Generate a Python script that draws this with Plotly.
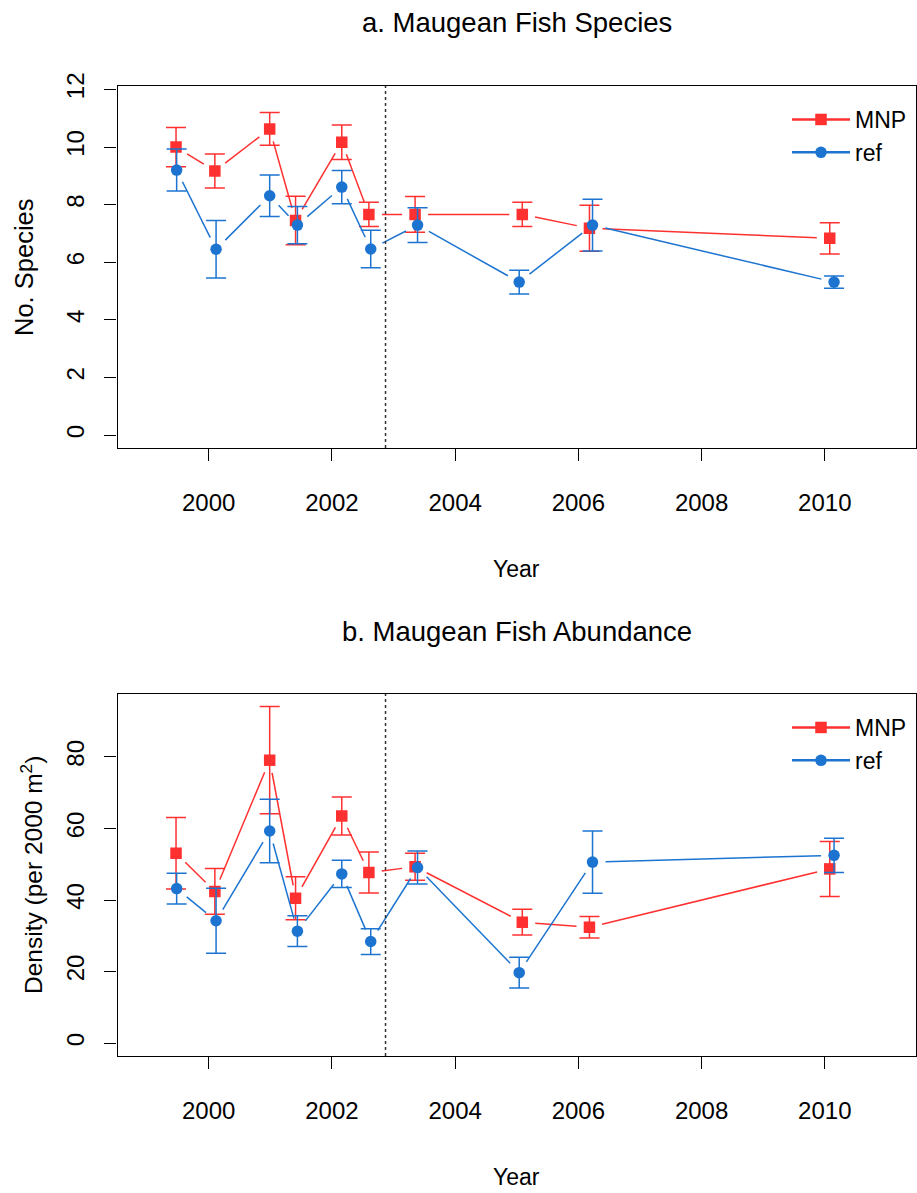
import math
import plotly.graph_objects as go

# ---------------- data ----------------
years_mnp = [1999.47, 2000.10, 2000.99, 2001.41, 2002.16, 2002.60, 2003.35, 2005.09, 2006.18, 2010.08]
years_ref = [1999.48, 2000.12, 2000.99, 2001.44, 2002.16, 2002.63, 2003.39, 2005.04, 2006.23, 2010.15]

species_mnp = [10.00, 9.17, 10.63, 7.45, 10.17, 7.66, 7.66, 7.66, 7.18, 6.83]
species_mnp_se = [0.68, 0.59, 0.57, 0.84, 0.60, 0.42, 0.62, 0.42, 0.80, 0.54]
species_ref = [9.20, 6.45, 8.31, 7.29, 8.61, 6.46, 7.29, 5.31, 7.29, 5.31]
species_ref_se = [0.73, 1.00, 0.72, 0.65, 0.58, 0.65, 0.60, 0.41, 0.90, 0.21]

density_mnp = [53.1, 42.4, 79.1, 40.5, 63.5, 47.7, 49.3, 33.8, 32.4, 48.7]
density_mnp_se = [10.0, 6.4, 15.0, 6.0, 5.3, 5.7, 3.8, 3.6, 3.0, 7.7]
density_ref = [43.2, 34.2, 59.3, 31.3, 47.3, 28.4, 49.1, 19.7, 50.6, 52.5]
density_ref_se = [4.3, 9.1, 8.9, 4.3, 3.8, 3.6, 4.6, 4.3, 8.7, 4.8]

x_ticks = [2000, 2002, 2004, 2006, 2008, 2010]
species_ticks = [0, 2, 4, 6, 8, 10, 12]
density_ticks = [0, 20, 40, 60, 80]
park_declared = 2002.87

series_names = ["MNP", "ref"]
titles = ["a. Maugean Fish Species", "b. Maugean Fish Abundance"]

# ---------------- layout geometry ----------------
W, H = 917, 1193
PX_L, PX_R = 117.5, 916.0
PANELS = [(86.0, 448.0), (694.0, 1056.0)]
X_RANGE = [1998.52, 2011.48]
Y_RANGES = [[-0.45, 12.12], [-3.6, 97.6]]

RED = "#FF3030"
BLUE = "#1C74D0"
FONT = "Liberation Sans, Arial, Helvetica, sans-serif"
FS = 23
FS_TICK = 24


def gapped(xs, ys, xr, yr, wpx, hpx, gap=13.0):
    """R type='b' style segments: lines that stop short of each point."""
    sx = wpx / (xr[1] - xr[0])
    sy = hpx / (yr[1] - yr[0])
    X, Y = [], []
    for i in range(len(xs) - 1):
        ddx, ddy = xs[i + 1] - xs[i], ys[i + 1] - ys[i]
        L = math.hypot(ddx * sx, ddy * sy)
        if L <= 2 * gap:
            continue
        t = gap / L
        X += [xs[i] + t * ddx, xs[i + 1] - t * ddx, None]
        Y += [ys[i] + t * ddy, ys[i + 1] - t * ddy, None]
    return X, Y


fig = go.Figure()

panel_data = [
    (species_mnp, species_mnp_se, species_ref, species_ref_se),
    (density_mnp, density_mnp_se, density_ref, density_ref_se),
]

for p, (m, mse, r, rse) in enumerate(panel_data):
    xa = "x" if p == 0 else "x2"
    ya = "y" if p == 0 else "y2"
    lg = "legend" if p == 0 else "legend2"
    top, bot = PANELS[p]
    wpx, hpx = PX_R - PX_L, bot - top
    for xs, ys, se, col, sym, name in [
        (years_mnp, m, mse, RED, "square", series_names[0]),
        (years_ref, r, rse, BLUE, "circle", series_names[1]),
    ]:
        gx, gy = gapped(xs, ys, X_RANGE, Y_RANGES[p], wpx, hpx)
        fig.add_trace(go.Scatter(x=gx, y=gy, mode="lines", xaxis=xa, yaxis=ya,
                                 line=dict(color=col, width=1.5), showlegend=False,
                                 hoverinfo="skip"))
        fig.add_trace(go.Scatter(x=xs, y=ys, mode="markers", xaxis=xa, yaxis=ya,
                                 marker=dict(symbol=sym, size=11.5, color=col),
                                 error_y=dict(type="data", array=se, visible=True,
                                              color=col, thickness=1.5, width=10),
                                 showlegend=False, name=name))
        # legend entry
        fig.add_trace(go.Scatter(x=[None], y=[None], mode="lines+markers", xaxis=xa, yaxis=ya,
                                 line=dict(color=col, width=2.5),
                                 marker=dict(symbol=sym, size=11.5, color=col),
                                 name=name, legend=lg, showlegend=True))

axis_common = dict(showline=True, mirror=True, linecolor="black", linewidth=1.2,
                   ticks="outside", ticklen=12, tickwidth=1.2, tickcolor="black",
                   showgrid=False, zeroline=False, automargin=False,
                   tickfont=dict(family=FONT, size=FS_TICK, color="black"))

layout = dict(
    width=W, height=H, template="none",
    margin=dict(l=0, r=0, t=0, b=0),
    paper_bgcolor="white", plot_bgcolor="white",
    font=dict(family=FONT, size=FS, color="black"),
    shapes=[], annotations=[],
)

for p in range(2):
    top, bot = PANELS[p]
    sfx = "" if p == 0 else "2"
    layout["xaxis" + sfx] = dict(axis_common, domain=[PX_L / W, PX_R / W], range=X_RANGE,
                                 tickvals=x_ticks, anchor="y" + sfx,
                                 ticklabelstandoff=21)
    layout["yaxis" + sfx] = dict(axis_common, domain=[1 - bot / H, 1 - top / H],
                                 range=Y_RANGES[p], anchor="x" + sfx,
                                 tickvals=species_ticks if p == 0 else density_ticks,
                                 tickangle=-90, ticklabelstandoff=11)
    layout["shapes"].append(dict(type="line", xref="x" + sfx, yref="y" + sfx + " domain",
                                 x0=park_declared, x1=park_declared, y0=0, y1=1,
                                 line=dict(color="#333333", width=1.5, dash="dot")))
    # main title
    layout["annotations"].append(dict(text=titles[p], xref="paper", yref="paper",
                                      x=(PX_L + PX_R) / 2 / W,
                                      y=1 - (top - 63) / H, showarrow=False,
                                      xanchor="center", yanchor="middle",
                                      font=dict(size=27.5)))
    # x axis title
    layout["annotations"].append(dict(text="Year", xref="paper", yref="paper",
                                      x=(PX_L + PX_R) / 2 / W,
                                      y=1 - (bot + 121) / H, showarrow=False,
                                      xanchor="center", yanchor="middle",
                                      font=dict(size=FS)))

layout["annotations"].append(dict(text="No. Species", xref="paper", yref="paper",
                                  x=24 / W, y=1 - (sum(PANELS[0]) / 2) / H,
                                  textangle=-90, showarrow=False,
                                  xanchor="center", yanchor="middle", font=dict(size=25.5)))
layout["annotations"].append(dict(text="Density (per 2000 m<sup>2</sup>)", xref="paper",
                                  yref="paper", x=31 / W, y=1 - (sum(PANELS[1]) / 2) / H,
                                  textangle=-90, showarrow=False,
                                  xanchor="center", yanchor="middle", font=dict(size=24.5)))

for p, lg in enumerate(["legend", "legend2"]):
    top, bot = PANELS[p]
    layout[lg] = dict(x=787 / W, y=1 - (top + 12) / H, xanchor="left", yanchor="top",
                      bgcolor="rgba(0,0,0,0)", borderwidth=0,
                      font=dict(family=FONT, size=FS, color="black"),
                      itemwidth=58, tracegroupgap=0)

fig.update_layout(**layout)
fig.write_html("out.html", config={"displayModeBar": False},
               post_script="document.body.style.margin='0';document.body.style.padding='0';")
